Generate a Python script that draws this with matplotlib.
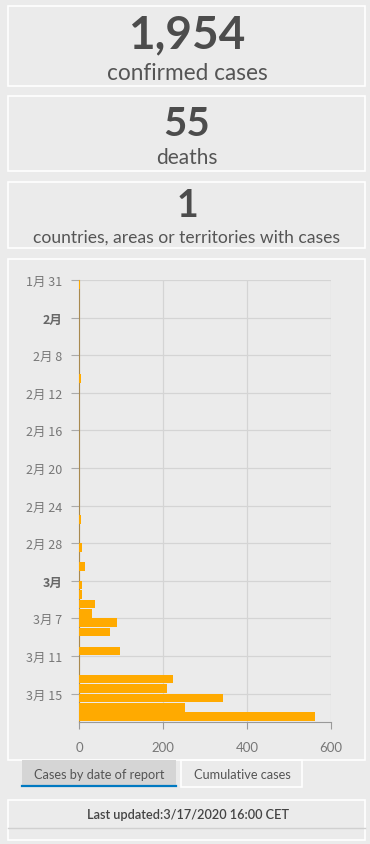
import matplotlib
matplotlib.use("Agg")
from matplotlib import pyplot as plt
from matplotlib.patches import Rectangle

# Daten
confirmed = "1,954"
deaths = "55"
countries = "1"

# Tage seit 31. Jan 2020 und neue Fälle pro Tag
days = [0, 10, 25, 28, 30, 32, 33, 34, 35, 36, 37, 39, 42, 43, 44, 45, 46]
cases = [2, 4, 5, 8, 15, 8, 8, 39, 30, 90, 73, 97, 223, 209, 344, 252, 561]

tick_days = [0, 4, 8, 12, 16, 20, 24, 28, 32, 36, 40, 44]
tick_labels = ["1月 31", "2月", "2月 8", "2月 12", "2月 16", "2月 20",
               "2月 24", "2月 28", "3月", "3月 7", "3月 11", "3月 15"]
x_ticks = [0, 200, 400, 600]

W, H = 370, 845
bg = "#ebebeb"
txt = "#4c4c4c"
font = ["Lato", "DejaVu Sans"]
cjk = ["Noto Sans CJK SC", "DejaVu Sans"]

fig = plt.figure(figsize=(W / 100, H / 100), dpi=100)
fig.patch.set_facecolor(bg)


def box(x0, y0, x1, y1, fc="none", ec="white", lw=1.2):
    # Rahmen in Pixelkoordinaten (oben = 0)
    fig.patches.append(Rectangle((x0 / W, 1 - y1 / H), (x1 - x0) / W, (y1 - y0) / H,
                                 transform=fig.transFigure, facecolor=fc,
                                 edgecolor=ec, linewidth=lw))


def put(x, y, s, size, color=txt, weight="normal", fam=font):
    fig.text(x / W, 1 - y / H, s, ha="center", va="center", fontsize=size,
             color=color, fontweight=weight, family=fam)


# obere Kacheln
box(8, 7, 365, 87)
box(8, 97, 365, 172)
box(8, 183, 365, 249)
put(187, 35, confirmed, 33, weight="bold")
put(187, 73, "confirmed cases", 16.3, color="#555555")
put(187, 124, deaths, 29, weight="bold")
put(187, 158, "deaths", 15, color="#555555")
put(187, 206, countries, 27, weight="bold")
put(187, 238, "countries, areas or territories with cases", 12.6, color="#555555")

# Diagrammrahmen
box(8, 260, 365, 761)

ax = fig.add_axes([79 / W, 1 - 722.7 / H, (331 - 79) / W, (722.7 - 281) / H])
ax.set_facecolor(bg)
ax.barh(days, cases, height=0.92, align="edge", color="#ffaa00", zorder=3)
ax.set_ylim(47, 0)
ax.set_xlim(0, 600)
ax.set_yticks(tick_days)
ax.set_yticklabels(tick_labels, family=cjk, fontsize=9, color="#777777")
for lab in ax.get_yticklabels():
    if lab.get_text() in ("2月", "3月"):
        lab.set_fontweight("bold")
        lab.set_color("#666666")
ax.set_xticks(x_ticks)
ax.set_xticklabels([str(v) for v in x_ticks], family=font, fontsize=9.5, color="#777777")
ax.grid(True, color="#d4d4d4", linewidth=0.9, zorder=0)
for side in ("top", "right"):
    ax.spines[side].set_visible(False)
ax.spines["left"].set_color("#a8894f")
ax.spines["bottom"].set_color("#999999")
ax.tick_params(axis="y", length=6, color="#aaaaaa", pad=6)
ax.tick_params(axis="x", length=5, color="#999999", pad=9)

# Reiter
box(22, 761, 176, 788, fc="#d5d5d5", ec="none")
fig.add_artist(plt.Line2D([22 / W, 176 / W], [1 - 787 / H, 1 - 787 / H],
                          color="#0079c1", linewidth=1.6))
box(181, 761, 302, 788)
put(99, 775, "Cases by date of report", 9.2, color="#555555")
put(242, 775, "Cumulative cases", 9.2, color="#555555")

# Fußzeile
box(8, 801, 365, 841)
fig.add_artist(plt.Line2D([8 / W, 365 / W], [1 - 829 / H, 1 - 829 / H],
                          color="#d0d0d0", linewidth=1))
put(188, 815, "Last updated:3/17/2020 16:00 CET", 9.2, color="#444444", weight="semibold")

plt.savefig("out.png", dpi=100, facecolor=bg)
